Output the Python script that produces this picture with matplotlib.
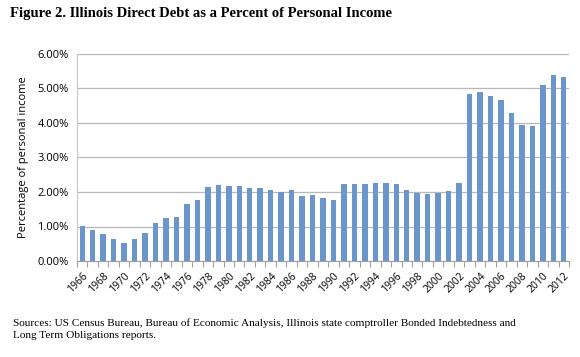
import numpy as np
from matplotlib import pyplot as plt
from matplotlib.ticker import FuncFormatter, MultipleLocator

years = list(range(1966, 2013))
debt_pct = [1.02, 0.91, 0.77, 0.63, 0.53, 0.64, 0.80, 1.09, 1.24, 1.27,
            1.65, 1.78, 2.14, 2.20, 2.16, 2.17, 2.13, 2.11, 2.07, 2.01,
            2.07, 1.89, 1.92, 1.83, 1.76, 2.23, 2.24, 2.23, 2.25, 2.25,
            2.22, 2.05, 1.97, 1.93, 1.96, 2.02, 2.27, 4.85, 4.90, 4.78,
            4.66, 4.28, 3.93, 3.92, 5.10, 5.40, 5.33]
tick_labels = [str(y) for y in years[::2]]

title = "Figure 2. Illinois Direct Debt as a Percent of Personal Income"
source = ("Sources: US Census Bureau, Bureau of Economic Analysis, Illinois state comptroller Bonded Indebtedness and\n"
          "Long Term Obligations reports.")

fig = plt.figure(figsize=(5.8, 3.57), dpi=100)
ax = fig.add_axes([77 / 580, 1 - 261 / 357, (569 - 77) / 580, (261 - 54) / 357])

x = np.arange(len(years))
ax.bar(x, debt_pct, width=0.52, color="#6A96CB", zorder=3)

ax.set_xlim(-0.5, len(years) - 0.5)
ax.set_ylim(0, 6)
ax.yaxis.set_major_locator(MultipleLocator(1))
ax.yaxis.set_major_formatter(FuncFormatter(lambda v, p: "%.2f%%" % v))
ax.grid(axis="y", color="#B8B8B8", linewidth=0.9, zorder=0)

ax.set_xticks(x[::2])
ax.set_xticklabels(tick_labels, rotation=45, ha="right", rotation_mode="anchor",
                   fontsize=7.5, family="Open Sans")
ax.set_xticks(np.arange(len(years) + 1) - 0.5, minor=True)
ax.tick_params(axis="x", which="major", length=0, pad=7)
ax.tick_params(axis="x", which="minor", length=4, color="#A0A0A0", width=0.8)
ax.tick_params(axis="y", length=0, labelsize=8, pad=6)
for lab in ax.get_yticklabels():
    lab.set_family("Open Sans")

ax.set_ylabel("Percentage of personal income", fontsize=8, family="Open Sans", labelpad=6)

for s in ["top", "right"]:
    ax.spines[s].set_visible(False)
ax.spines["left"].set_color("#C8C8C8")
ax.spines["bottom"].set_color("#A0A0A0")

fig.text(10 / 580, 1 - 14 / 357, title, fontsize=10.5, fontweight="bold",
         family="Liberation Serif", va="center", ha="left")
fig.text(13 / 580, 1 - 318 / 357, source, fontsize=8.1, family="Liberation Serif",
         va="top", ha="left", linespacing=1.4)

fig.savefig("out.png", dpi=100)
